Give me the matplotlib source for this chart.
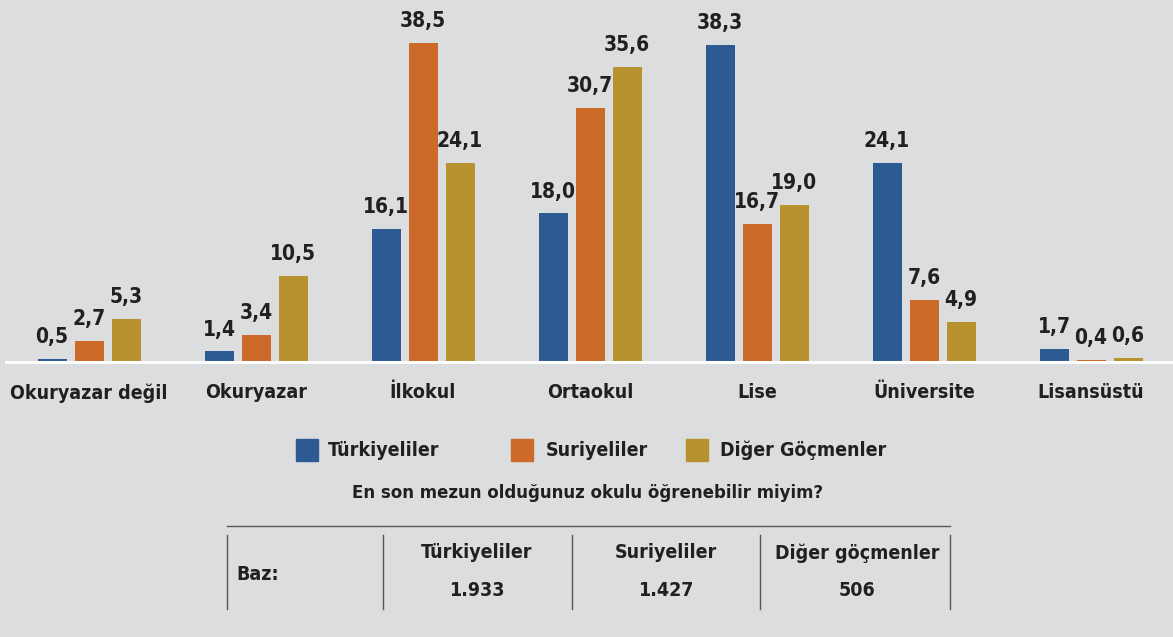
import matplotlib
matplotlib.use("Agg")
import matplotlib.pyplot as plt
import numpy as np

categories = ["Okuryazar değil", "Okuryazar", "İlkokul", "Ortaokul", "Lise", "Üniversite", "Lisansüstü"]
series_names = ["Türkiyeliler", "Suriyeliler", "Diğer Göçmenler"]
turkiyeliler = [0.5, 1.4, 16.1, 18.0, 38.3, 24.1, 1.7]
suriyeliler = [2.7, 3.4, 38.5, 30.7, 16.7, 7.6, 0.4]
diger = [5.3, 10.5, 24.1, 35.6, 19.0, 4.9, 0.6]
colors = ["#2d5a92", "#cc6a2a", "#b8922e"]
question = "En son mezun olduğunuz okulu öğrenebilir miyim?"
base_label = "Baz:"
base_groups = ["Türkiyeliler", "Suriyeliler", "Diğer göçmenler"]
base_values = ["1.933", "1.427", "506"]

plt.rcParams['font.family'] = ['DejaVu Sans']
plt.rcParams['font.stretch'] = 'condensed'
FP = dict(fontweight="bold", fontstretch="condensed")

W, H = 1173, 637
bg = "#dcdddf"
tc = "#231f20"
fig = plt.figure(figsize=(W / 100, H / 100), dpi=100, facecolor=bg)

base_y = 363
ax = fig.add_axes([0, (H - base_y) / H, 1, base_y / H])
ax.set_facecolor(bg)
px_per_unit = 8.31
ax.set_ylim(0, base_y / px_per_unit)
gap = 167
x0 = 89
ax.set_xlim(-x0 / gap, (W - x0) / gap)
for s in ax.spines.values():
    s.set_visible(False)
ax.set_xticks([])
ax.set_yticks([])

x = np.arange(len(categories))
bw = 29 / gap
off = 37 / gap
for k, vals in enumerate([turkiyeliler, suriyeliler, diger]):
    xs = x + (k - 1) * off
    ax.bar(xs, vals, width=bw, color=colors[k], zorder=2)
    for xi, v in zip(xs, vals):
        ax.annotate(f"{v:.1f}".replace(".", ","), (xi, v), xytext=(0, 8.5),
                    textcoords="offset points", ha="center", va="bottom",
                    fontsize=15, color=tc, clip_on=False, **FP)

# baseline
fig.add_artist(plt.Line2D([6 / W, 1172 / W], [(H - 362) / H] * 2, color="white", lw=2.2))

def fy(py):
    return (H - py) / H

for i, c in enumerate(categories):
    fig.text((x0 + gap * i) / W, fy(393), c, ha="center", va="center",
             fontsize=14, color=tc, **FP)

# legend
leg = [(296, 328), (511, 546), (686, 720)]
for (sx, tx), name, col in zip(leg, series_names, colors):
    fig.add_artist(plt.Rectangle((sx / W, fy(461)), 22 / W, 22 / H, color=col,
                                 transform=fig.transFigure))
    fig.text(tx / W, fy(450), name, ha="left", va="center", fontsize=14,
             color=tc, **FP)

fig.text(588 / W, fy(493), question, ha="center", va="center", fontsize=13.3,
         color=tc, **FP)

# table
lc = "#555555"
fig.add_artist(plt.Line2D([227 / W, 950 / W], [fy(526)] * 2, color=lc, lw=1))
for vx in [227, 383, 572, 760, 950]:
    fig.add_artist(plt.Line2D([vx / W] * 2, [fy(535), fy(609)], color=lc, lw=1))
fig.text(236 / W, fy(574), base_label, ha="left", va="center", fontsize=14,
         color=tc, **FP)
for cx, g, v in zip([477, 666, 857], base_groups, base_values):
    fig.text(cx / W, fy(553), g, ha="center", va="center", fontsize=14,
             color=tc, **FP)
    fig.text(cx / W, fy(591), v, ha="center", va="center", fontsize=14,
             color=tc, **FP)

fig.savefig("out.png", dpi=100, facecolor=bg)
